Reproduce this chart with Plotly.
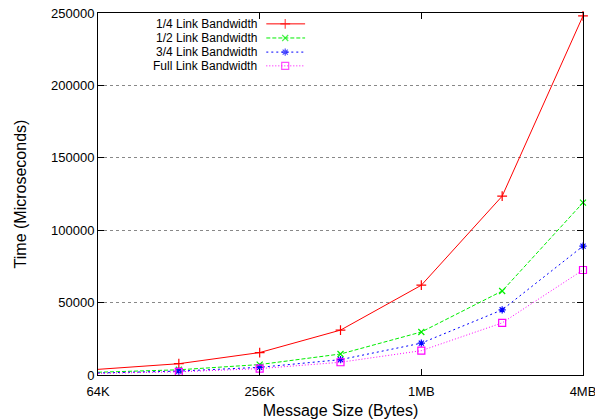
import plotly.graph_objects as go

# Data
sizes = [65536, 131072, 262144, 524288, 1048576, 2097152, 4194304]
series_names = ["1/4 Link Bandwidth", "1/2 Link Bandwidth", "3/4 Link Bandwidth", "Full Link Bandwidth"]
quarter = [3900, 7800, 15500, 31000, 62000, 123500, 248000]
half = [1900, 3600, 7200, 14500, 29700, 58000, 119000]
three_quarter = [1400, 2700, 5300, 10600, 22000, 45000, 89000]
full = [1100, 2200, 4400, 8800, 16800, 36000, 72500]
x_tickvals = [65536, 262144, 1048576, 4194304]
x_ticktext = ["64K", "256K", "1MB", "4MB"]
y_tickvals = [0, 50000, 100000, 150000, 200000, 250000]
y_ticktext = ["0", "50000", "100000", "150000", "200000", "250000"]

styles = [
    dict(color="#ff0000", dash="solid", symbol="cross-thin-open", size=7),
    dict(color="#00ee00", dash="4px,2px", symbol="x-thin-open", size=6),
    dict(color="#0000ff", dash="2px,3px", symbol="asterisk-open", size=6),
    dict(color="#ff00ff", dash="1px,2px", symbol="square-open", size=7),
]

fig = go.Figure()
for name, vals, st in zip(series_names, [quarter, half, three_quarter, full], styles):
    fig.add_trace(go.Scatter(
        x=sizes, y=vals, mode="lines+markers", name=name,
        line=dict(color=st["color"], width=1, dash=st["dash"]),
        marker=dict(symbol=st["symbol"], size=st["size"], color=st["color"],
                    line=dict(color=st["color"], width=1.2)),
        cliponaxis=False, showlegend=False))

# gnuplot-style legend (text right of sample, right-aligned)
leg_rows = [0.970, 0.931, 0.892, 0.854]
for name, st, yy in zip(series_names, styles, leg_rows):
    fig.add_trace(go.Scatter(
        x=[0.347, 0.386, 0.427], y=[yy, yy, yy], xaxis="x2", yaxis="y2",
        mode="lines+markers",
        line=dict(color=st["color"], width=1, dash=st["dash"]),
        marker=dict(symbol=st["symbol"], size=[0, st["size"], 0], color=st["color"],
                    line=dict(color=st["color"], width=1.2)),
        cliponaxis=False, showlegend=False, hoverinfo="skip"))
    fig.add_annotation(x=0.329, y=yy, xref="x2", yref="y2", text=name,
                       showarrow=False, xanchor="right", yanchor="middle",
                       borderpad=0,
                       font=dict(size=12, color="black"))

fig.update_layout(
    width=595, height=419,
    margin=dict(l=98, r=12, t=13, b=44, autoexpand=False),
    paper_bgcolor="white", plot_bgcolor="white",
    font=dict(family="Liberation Sans, Arial, sans-serif", size=13, color="black"),
    xaxis=dict(type="log", range=[4.81648, 6.62266],
               tickvals=x_tickvals, ticktext=x_ticktext, automargin=False,
               ticklabeloverflow="allow", ticklabelstandoff=4,
               ticks="inside", ticklen=6, tickcolor="black",
               showline=True, linecolor="black", linewidth=1, mirror="ticks",
               showgrid=False, zeroline=False,
               title=dict(text="Message Size (Bytes)", standoff=7)),
    yaxis=dict(range=[0, 250000], tickvals=y_tickvals, ticktext=y_ticktext,
               automargin=False,
               ticks="inside", ticklen=6, tickcolor="black",
               showline=True, linecolor="black", linewidth=1, mirror="ticks",
               showgrid=True, gridcolor="#888888", griddash="dot", gridwidth=1,
               zeroline=False, ticklabelstandoff=0,
               title=dict(text="Time (Microseconds)", standoff=20)),
    xaxis2=dict(overlaying="x", range=[0, 1], visible=False),
    yaxis2=dict(overlaying="y", range=[0, 1], visible=False),
)

fig.write_html("out.html", config={"displayModeBar": False},
               post_script="document.body.style.margin='0px';document.body.style.overflow='hidden';")
